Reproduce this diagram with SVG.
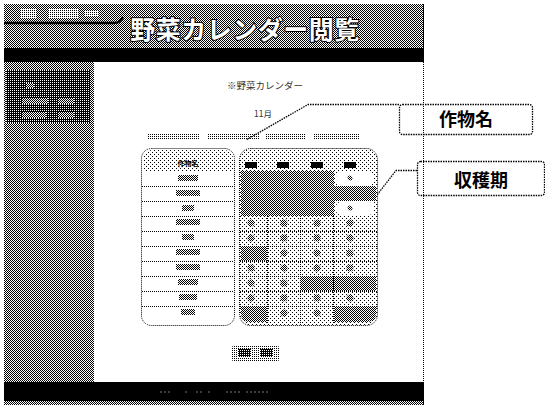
<svg xmlns="http://www.w3.org/2000/svg" width="545" height="410" viewBox="0 0 545 410">
<defs>
<pattern id="d50" width="2" height="2" patternUnits="userSpaceOnUse"><rect width="2" height="2" fill="#fff"/><rect width="1" height="1" fill="#000"/><rect x="1" y="1" width="1" height="1" fill="#000"/></pattern>
<pattern id="d25" width="2" height="2" patternUnits="userSpaceOnUse"><rect width="2" height="2" fill="#fff"/><rect width="1" height="1" fill="#000"/></pattern>
<pattern id="d12" width="4" height="4" patternUnits="userSpaceOnUse"><rect width="4" height="4" fill="#fff"/><rect width="1" height="1" fill="#000"/><rect x="2" y="2" width="1" height="1" fill="#000"/></pattern>
<pattern id="d75" width="2" height="2" patternUnits="userSpaceOnUse"><rect width="2" height="2" fill="#000"/><rect width="1" height="1" fill="#fff"/></pattern>
<style>
.dot{fill:none;stroke:#000;stroke-width:1;stroke-dasharray:1 1}
.lead{fill:none;stroke:#000;stroke-width:1.3;stroke-dasharray:1.5 1}
.blob{fill:url(#d50)}
.cap{font-family:"Noto Sans CJK JP","Noto Sans",sans-serif;font-weight:bold;text-anchor:middle}
.sm{font-family:"Noto Sans CJK JP","Noto Sans",sans-serif;text-anchor:middle;fill:#333}
</style>
</defs>
<rect width="545" height="410" fill="#fff"/>

<g id="screenshot">
  <!-- header -->
  <rect x="4" y="4" width="420" height="44" fill="url(#d50)"/>
  <rect x="20" y="8" width="16" height="10" fill="url(#d25)"/>
  <rect x="48" y="9" width="30" height="9" fill="url(#d25)"/>
  <rect x="84" y="10" width="14" height="7" fill="url(#d25)"/>
  <path d="M4,23 H114 Q120,23 123,17" fill="none" stroke="#000" stroke-width="2.5"/>
  <text x="245" y="39" class="cap" font-size="25" fill="#fff" stroke="#000" stroke-width="2" paint-order="stroke" letter-spacing="0.5">野菜カレンダー閲覧</text>
  <rect x="4" y="48" width="420" height="14" fill="#000"/>
  <!-- sidebar -->
  <rect x="4" y="62" width="90" height="320" fill="url(#d50)"/>
  <rect x="6" y="70" width="84" height="53" fill="url(#d75)"/>
  <rect x="26" y="83" width="8" height="5" fill="url(#d50)"/>
  <rect x="22" y="98" width="26" height="6" fill="url(#d50)"/>
  <rect x="58" y="98" width="16" height="6" fill="url(#d50)"/>
  <rect x="22" y="112" width="24" height="6" fill="url(#d50)"/>
  <rect x="58" y="112" width="16" height="6" fill="url(#d50)"/>
  <!-- content -->
  <rect x="94" y="62" width="330" height="320" fill="#fff"/>
  <text x="265" y="89" class="sm" font-size="9.5">※野菜カレンダー</text>
  <text x="263" y="117" class="sm" font-size="8.5">11月</text>
  <!-- legend -->
  <rect x="148" y="133" width="52" height="7" fill="url(#d25)"/>
  <rect x="207" y="133" width="52" height="7" fill="url(#d25)"/>
  <rect x="266" y="133" width="40" height="7" fill="url(#d25)"/>
  <rect x="314" y="133" width="46" height="7" fill="url(#d25)"/>
  <!-- left table -->
  <rect x="141.5" y="148.5" width="93" height="177" rx="10" fill="#fff"/>
  <path d="M143,171 V160 Q143,150 152,150 H224 Q233,150 233,160 V171 Z" fill="url(#d12)"/>
  <rect x="141.5" y="148.5" width="93" height="177" rx="10" class="dot"/>
  <text x="188" y="166" class="cap" font-size="7" fill="#000">作物名</text>
  <g class="dot">
    <path d="M142,186.5 H234 M142,201.5 H234 M142,216.5 H234 M142,231.5 H234 M142,246.5 H234 M142,261.5 H234 M142,276.5 H234 M142,291.5 H234 M142,306.5 H234"/>
  </g>
  <g class="blob">
    <rect x="178" y="175" width="20" height="6"/>
    <rect x="176" y="190" width="24" height="6"/>
    <rect x="182" y="205" width="12" height="6"/>
    <rect x="176" y="219" width="24" height="6"/>
    <rect x="182" y="234" width="12" height="6"/>
    <rect x="176" y="249" width="24" height="6"/>
    <rect x="176" y="264" width="24" height="6"/>
    <rect x="178" y="279" width="20" height="6"/>
    <rect x="179" y="294" width="18" height="6"/>
    <rect x="181" y="309" width="14" height="6"/>
  </g>
  <!-- right table -->
  <rect x="239.5" y="148.5" width="138" height="177" rx="11" fill="url(#d12)"/>
  <rect x="241" y="171" width="93" height="45" fill="url(#d50)"/>
  <rect x="334" y="186" width="42" height="15" fill="url(#d50)"/>
  <rect x="336" y="172" width="38" height="13" rx="5" fill="#fff"/>
  <rect x="336" y="202" width="38" height="13" rx="5" fill="#fff"/>
  <rect x="241" y="247" width="26" height="14" fill="url(#d50)"/>
  <rect x="301" y="277" width="75" height="14" fill="url(#d50)"/>
  <path d="M241,307 H267 V322 H250 Q241,322 241,314 Z" fill="url(#d50)"/>
  <path d="M334,307 H376 V314 Q376,322 367,322 H334 Z" fill="url(#d50)"/>
  <rect x="239.5" y="148.5" width="138" height="177" rx="11" class="dot"/>
  <g class="dot">
    <path d="M267.5,216 V324 M300.5,216 V324 M333.5,216 V324"/>
    <path d="M240,231.5 H377 M240,246.5 H377 M240,261.5 H377 M240,276.5 H377 M240,291.5 H377 M240,306.5 H377"/>
  </g>
  <g fill="#000">
    <rect x="245" y="162" width="12" height="6"/>
    <rect x="277" y="162" width="12" height="6"/>
    <rect x="311" y="162" width="12" height="6"/>
    <rect x="344" y="162" width="12" height="6"/>
  </g>
  <g class="blob">
    <circle cx="251" cy="178" r="3.5"/><circle cx="284" cy="178" r="3.5"/><circle cx="317" cy="178" r="3.5"/><circle cx="350" cy="178" r="2.5"/>
    <circle cx="251" cy="193" r="3.5"/><circle cx="284" cy="193" r="3.5"/><circle cx="317" cy="193" r="3.5"/><circle cx="350" cy="193" r="3.5"/>
    <circle cx="251" cy="208" r="3.5"/><circle cx="284" cy="208" r="3.5"/><circle cx="317" cy="208" r="3.5"/><circle cx="350" cy="208" r="2.5"/>
    <circle cx="251" cy="223" r="3.5"/><circle cx="284" cy="223" r="3.5"/><circle cx="317" cy="223" r="3.5"/><circle cx="350" cy="223" r="3.5"/>
    <circle cx="251" cy="238" r="3.5"/><circle cx="284" cy="238" r="3.5"/><circle cx="317" cy="238" r="3.5"/><circle cx="350" cy="238" r="3.5"/>
    <circle cx="251" cy="253" r="3.5"/><circle cx="284" cy="253" r="3.5"/><circle cx="317" cy="253" r="3.5"/><circle cx="350" cy="253" r="3.5"/>
    <circle cx="251" cy="268" r="3.5"/><circle cx="284" cy="268" r="3.5"/><circle cx="317" cy="268" r="3.5"/><circle cx="350" cy="268" r="3.5"/>
    <circle cx="251" cy="283" r="3.5"/><circle cx="284" cy="283" r="3.5"/><circle cx="317" cy="283" r="3.5"/><circle cx="350" cy="283" r="3.5"/>
    <circle cx="251" cy="298" r="3.5"/><circle cx="284" cy="298" r="3.5"/><circle cx="317" cy="298" r="3.5"/><circle cx="350" cy="298" r="3.5"/>
    <circle cx="251" cy="313" r="3.5"/><circle cx="284" cy="313" r="3.5"/><circle cx="317" cy="313" r="3.5"/><circle cx="350" cy="313" r="3.5"/>
  </g>
  <!-- button -->
  <rect x="231" y="346" width="49" height="15" rx="3" fill="url(#d25)"/>
  <rect x="238" y="349" width="13" height="8" fill="url(#d75)"/>
  <rect x="260" y="349" width="13" height="8" fill="url(#d75)"/>
  <!-- footer -->
  <rect x="4" y="382" width="420" height="19" fill="#000"/>
  <rect x="4" y="401" width="420" height="4" fill="url(#d50)"/>
  <path d="M160,392 H172 M185,392 H187 M196,392 H202 M208,392 H210 M226,392 H242 M246,392 H268" stroke="#777" stroke-width="1" stroke-dasharray="2 2"/>
  <line x1="423.5" y1="4" x2="423.5" y2="405" class="dot" stroke-width="1.5"/>
</g>

<g id="connectors">
  <polyline points="399,104.5 308,104.5 246,140" class="lead"/>
  <polyline points="417,170.5 396,170.5 377,195" class="lead"/>
</g>

<g id="callout-sakumotsu">
  <rect x="399.5" y="104.5" width="133" height="30" rx="3" fill="#fff" class="lead"/>
  <text x="466" y="126" class="cap" font-size="18" fill="#000">作物名</text>
</g>

<g id="callout-shukaku">
  <rect x="417.5" y="161.5" width="127" height="34" rx="3" fill="#fff" class="lead"/>
  <text x="481" y="187" class="cap" font-size="18" fill="#000">収穫期</text>
</g>
</svg>
